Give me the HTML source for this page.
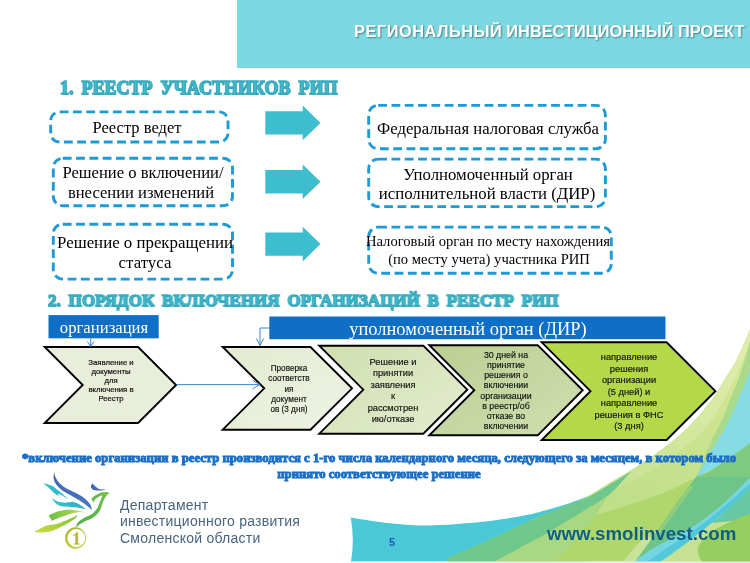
<!DOCTYPE html>
<html lang="ru">
<head>
<meta charset="utf-8">
<title>Региональный инвестиционный проект</title>
<style>
html,body{margin:0;padding:0;background:#fff;}
body{width:750px;height:563px;position:relative;overflow:hidden;font-family:"Liberation Serif",serif;}
.abs{position:absolute;}
.sl,.cl,.h,.fn,.dep,#www,#pn,#hdrt{will-change:transform;}
#hdr{left:237px;top:0;width:513px;height:67.5px;background:#7cd8e1;}
#hdrt{right:6px;top:21.5px;font-family:"Liberation Sans",sans-serif;font-weight:bold;font-size:16.35px;line-height:18px;color:#fff;white-space:nowrap;text-shadow:1px 1px 1.5px rgba(70,100,110,.75);}
.h{font-family:"Liberation Serif",serif;font-weight:bold;color:#45bccd;white-space:nowrap;line-height:22px;-webkit-text-stroke:1.45px #38adc0;text-shadow:0.6px 0.6px 0.3px #2a93a8;}
.sl{width:300px;text-align:center;white-space:nowrap;line-height:20px;color:#000;font-family:"Liberation Serif",serif;}
.cl{width:120px;text-align:center;white-space:nowrap;line-height:12px;color:#101010;-webkit-text-stroke:0.15px #101010;font-family:"Liberation Sans",sans-serif;}
.bb{background:#0f6fc6;}
.bt{color:#fff;}
.fn{width:750px;left:0;text-align:center;font-family:"Liberation Serif",serif;font-weight:bold;font-size:12.7px;line-height:16px;color:#1b72ca;white-space:nowrap;-webkit-text-stroke:0.95px #1a6cc4;}
.dep{font-family:"Liberation Sans",sans-serif;color:#486380;font-size:14px;letter-spacing:0.25px;line-height:16.4px;white-space:nowrap;}
#www{font-family:"Liberation Sans",sans-serif;font-weight:bold;color:#105f82;font-size:18.7px;line-height:22px;white-space:nowrap;}
#pn{font-family:"Liberation Sans",sans-serif;font-weight:bold;color:#1b5fae;font-size:11px;line-height:12px;}
</style>
</head>
<body>

<!-- background swoosh -->
<svg class="abs" style="left:0;top:0" width="750" height="563" viewBox="0 0 750 563">
<defs><linearGradient id="pg" gradientUnits="userSpaceOnUse" x1="600" y1="500" x2="745" y2="345"><stop offset="0" stop-color="#c4e192"/><stop offset="0.45" stop-color="#d2e69c"/><stop offset="1" stop-color="#e0edae"/></linearGradient>
<linearGradient id="pg2" gradientUnits="userSpaceOnUse" x1="620" y1="500" x2="745" y2="345"><stop offset="0" stop-color="#bfdf88"/><stop offset="1" stop-color="#d6e794"/></linearGradient></defs>
<path d="M350.7 517.5 C357.2 518.5 377.1 522.0 390.0 523.3 C402.9 524.6 412.6 525.8 428.0 525.5 C443.4 525.2 466.5 523.4 482.7 521.7 C498.9 520.0 514.6 517.2 525.3 515.3 C536.0 513.3 539.6 511.9 546.7 510.0 C553.8 508.1 560.9 506.1 568.0 503.7 C575.1 501.3 585.8 496.9 589.3 495.5 L590 561.5 L351 561.5 Q354.8 540 350.7 517.5 Z" fill="#4bc8d6"/>
<path d="M448.5 559.5 C448.9 559.0 445.3 559.2 451.0 556.5 C456.7 553.8 470.3 548.6 482.7 543.0 C495.1 537.4 514.6 527.9 525.3 523.0 C536.0 518.1 539.6 516.5 546.7 513.5 C553.8 510.5 562.8 507.2 568.0 505.2 C573.2 503.1 574.5 502.8 578.0 501.2 C581.5 499.6 585.0 497.9 589.3 495.5 C593.6 493.1 595.4 491.8 604.0 486.5 C612.6 481.2 629.3 471.8 641.0 464.0 C652.7 456.2 665.0 447.3 674.0 440.0 C683.0 432.7 688.7 426.8 695.0 420.0 C701.3 413.2 707.0 406.3 712.0 399.5 C717.0 392.7 720.7 386.1 725.0 379.0 C729.3 371.9 733.8 365.2 738.0 357.0 C742.2 348.8 748.0 334.2 750.0 329.6 L750.0 561.5 L447.5 561.5 L446.8 560.5 C447.1 560.3 448.2 559.7 448.5 559.5 Z" fill="#afd76c"/>
<path d="M578.0 501.2 C579.9 500.2 585.0 497.9 589.3 495.5 C593.6 493.1 595.4 491.8 604.0 486.5 C612.6 481.2 629.3 471.8 641.0 464.0 C652.7 456.2 665.0 447.3 674.0 440.0 C683.0 432.7 688.7 426.8 695.0 420.0 C701.3 413.2 707.0 406.3 712.0 399.5 C717.0 392.7 720.7 386.1 725.0 379.0 C729.3 371.9 733.8 365.2 738.0 357.0 C742.2 348.8 748.0 334.2 750.0 329.6 L750.0 341.3 C749.2 344.4 747.0 353.6 745.0 360.0 C743.0 366.4 740.5 373.3 738.0 380.0 C735.5 386.7 732.7 393.3 730.0 400.0 C727.3 406.7 725.0 413.3 722.0 420.0 C719.0 426.7 716.2 430.8 712.0 440.0 C707.8 449.2 699.5 469.6 697.0 475.5 L696.4 476.4 C694.0 477.7 687.4 481.5 682.0 484.2 C676.6 486.9 671.0 489.8 664.0 492.6 C657.0 495.4 648.2 498.3 640.0 501.0 C631.8 503.7 623.3 506.5 615.0 509.0 C606.7 511.5 594.2 514.8 590.0 516.0 L578.0 515.0 Z" fill="url(#pg)"/>
<clipPath id="cpr"><path d="M578.0 501.2 C579.9 500.2 585.0 497.9 589.3 495.5 C593.6 493.1 595.4 491.8 604.0 486.5 C612.6 481.2 629.3 471.8 641.0 464.0 C652.7 456.2 665.0 447.3 674.0 440.0 C683.0 432.7 688.7 426.8 695.0 420.0 C701.3 413.2 707.0 406.3 712.0 399.5 C717.0 392.7 720.7 386.1 725.0 379.0 C729.3 371.9 733.8 365.2 738.0 357.0 C742.2 348.8 748.0 334.2 750.0 329.6 L750.0 341.3 C749.2 344.4 747.0 353.6 745.0 360.0 C743.0 366.4 740.5 373.3 738.0 380.0 C735.5 386.7 732.7 393.3 730.0 400.0 C727.3 406.7 725.0 413.3 722.0 420.0 C719.0 426.7 716.2 430.8 712.0 440.0 C707.8 449.2 699.5 469.6 697.0 475.5 L696.4 476.4 C694.0 477.7 687.4 481.5 682.0 484.2 C676.6 486.9 671.0 489.8 664.0 492.6 C657.0 495.4 648.2 498.3 640.0 501.0 C631.8 503.7 623.3 506.5 615.0 509.0 C606.7 511.5 594.2 514.8 590.0 516.0 L578.0 515.0 Z"/></clipPath>
<path d="M596.0 497.0 C602.3 494.2 622.7 485.8 634.0 480.0 C645.3 474.2 654.0 468.7 664.0 462.0 C674.0 455.3 686.0 447.0 694.0 440.0 C702.0 433.0 706.5 427.7 712.0 420.0 C717.5 412.3 722.7 402.0 727.0 394.0 C731.3 386.0 734.2 380.8 738.0 372.0 C741.8 363.2 748.0 346.4 750.0 341.3 L760.0 341.0 L760.0 540.0 L590.0 540.0 Z" fill="url(#pg2)" clip-path="url(#cpr)"/>
<path d="M750.0 341.3 C749.2 344.4 747.0 353.6 745.0 360.0 C743.0 366.4 740.5 373.3 738.0 380.0 C735.5 386.7 732.7 393.3 730.0 400.0 C727.3 406.7 725.0 413.3 722.0 420.0 C719.0 426.7 716.2 430.8 712.0 440.0 C707.8 449.2 699.5 469.6 697.0 475.5 L697.0 475.5 C700.5 469.6 712.7 449.2 718.0 440.0 C723.3 430.8 725.7 426.7 729.0 420.0 C732.3 413.3 735.1 406.7 738.0 400.0 C740.9 393.3 744.5 385.5 746.5 380.0 C748.5 374.5 749.4 369.1 750.0 366.9 Z" fill="#a9da8b"/>
<path d="M750.0 366.9 C749.4 369.1 748.5 374.5 746.5 380.0 C744.5 385.5 740.9 393.3 738.0 400.0 C735.1 406.7 732.3 413.3 729.0 420.0 C725.7 426.7 723.3 430.8 718.0 440.0 C712.7 449.2 700.5 469.6 697.0 475.5 L696.4 476.4 L712.0 470.0 C718.3 465.6 743.7 448.0 750.0 443.6 Z" fill="#86dce4"/>
<path d="M750.0 443.6 C743.7 448.0 720.9 464.5 712.0 470.0 C703.1 475.5 699.0 475.3 696.4 476.4 L750.0 478.0 Z" fill="#7ecb80"/>
<path d="M696.4 476.4 C693.2 480.8 683.4 494.1 677.0 503.0 C670.6 511.9 663.3 522.5 658.0 530.0 C652.7 537.5 648.7 543.0 645.0 548.0 C641.3 553.0 637.5 558.0 636.0 560.0 L633.0 563.0 C636.5 560.5 644.8 553.5 654.0 548.0 C663.2 542.5 678.3 535.8 688.0 530.0 C697.7 524.2 705.3 518.1 712.0 513.0 C718.7 507.9 721.7 505.3 728.0 499.5 C734.3 493.7 746.3 481.6 750.0 478.0 L750.0 477.0 L696.4 476.4 Z" fill="#6dc58a"/>
<path d="M690.0 486.0 C687.0 490.2 677.7 503.2 672.0 511.0 C666.3 518.8 658.7 529.3 656.0 533.0 L660.0 533.0 C662.7 529.3 670.5 518.7 676.0 511.0 C681.5 503.3 690.2 491.0 693.0 487.0 Z" fill="#8fce7c"/>
<path d="M448.5 559.5 C448.9 559.0 445.3 559.2 451.0 556.5 C456.7 553.8 470.3 548.6 482.7 543.0 C495.1 537.4 514.6 527.9 525.3 523.0 C536.0 518.1 539.6 516.5 546.7 513.5 C553.8 510.5 562.8 507.2 568.0 505.2 C573.2 503.1 574.5 502.6 578.0 501.2 C581.5 499.8 585.0 498.7 589.3 496.5 C593.6 494.3 597.0 492.2 604.0 488.0 C611.0 483.8 626.5 474.2 631.0 471.5 L631.0 471.5 C627.5 475.2 617.0 487.9 610.0 494.0 C603.0 500.1 596.3 503.4 589.3 507.8 C582.3 512.2 575.1 516.3 568.0 520.6 C560.9 524.9 553.8 529.3 546.7 533.4 C539.6 537.5 533.9 540.3 525.3 545.0 C516.7 549.7 500.1 558.8 495.0 561.5 L447.5 561.5 L446.8 560.5 C447.1 560.3 448.2 559.7 448.5 559.5 Z" fill="#6fc78b"/>
<path d="M495.0 561.5 C500.1 558.8 516.7 549.7 525.3 545.0 C533.9 540.3 539.6 537.5 546.7 533.4 C553.8 529.3 560.9 524.9 568.0 520.6 C575.1 516.3 582.6 511.7 589.3 507.8 C596.0 503.9 604.9 498.8 608.0 497.0 L608.0 497.0 C604.9 501.3 596.0 514.2 589.3 522.7 C582.6 531.2 574.4 541.6 568.0 548.3 C561.6 555.0 553.8 560.5 551.0 563.0 Z" fill="#a9d884"/>
<path d="M750.0 478.0 C746.3 481.6 734.3 493.7 728.0 499.5 C721.7 505.3 718.7 507.9 712.0 513.0 C705.3 518.1 697.7 524.2 688.0 530.0 C678.3 535.8 663.2 542.5 654.0 548.0 C644.8 553.5 636.5 560.5 633.0 563.0 L659.0 563.0 C662.5 560.5 672.8 553.3 680.0 548.0 C687.2 542.7 694.7 536.8 702.0 531.0 C709.3 525.2 716.0 520.2 724.0 513.0 C732.0 505.8 745.7 492.2 750.0 488.0 Z" fill="#74d5e3"/>
<path d="M750.0 483.5 C745.3 487.7 731.5 500.6 722.0 508.5 C712.5 516.4 702.2 524.4 693.0 531.0 C683.8 537.6 674.8 542.7 667.0 548.0 C659.2 553.3 649.5 560.5 646.0 563.0 L659.0 563.0 C662.5 560.5 672.8 553.3 680.0 548.0 C687.2 542.7 694.7 536.8 702.0 531.0 C709.3 525.2 716.0 520.2 724.0 513.0 C732.0 505.8 745.7 492.2 750.0 488.0 Z" fill="#52c8da"/>
<path d="M724.0 513.0 C720.3 516.0 709.3 525.2 702.0 531.0 C694.7 536.8 687.2 542.7 680.0 548.0 C672.8 553.3 662.5 560.5 659.0 563.0 L750.0 563.0 L750.0 512.0 Z" fill="#c5e294"/>
<path d="M750.0 488.0 C745.7 492.2 730.3 507.2 724.0 513.0 C717.7 518.8 714.0 521.3 712.0 523.0 L732.0 521.0 C735.0 519.8 747.0 515.2 750.0 514.0 Z" fill="#68c8a5"/>
<path d="M750.0 514.0 C747.0 515.2 738.7 517.8 732.0 521.0 C725.3 524.2 715.7 528.5 710.0 533.0 C704.3 537.5 699.3 543.0 698.0 548.0 C696.7 553.0 701.3 560.5 702.0 563.0 L750.0 563.0 Z" fill="#96ce62"/>
<path d="M652.0 538.0 C650.8 539.7 647.7 544.3 645.0 548.0 C642.3 551.7 637.8 557.5 636.0 560.0 C634.2 562.5 634.3 562.5 634.0 563.0 L621.0 563.0 L626.0 558.0 C627.3 556.3 630.7 551.7 634.0 548.0 C637.3 544.3 644.0 538.0 646.0 536.0 Z" fill="#c9e29a"/>
<rect x="351" y="561.5" width="399" height="1.5" fill="#e4f0ec"/>
</svg>

<!-- header -->
<div class="abs" id="hdr"></div>
<div class="abs" id="hdrt"><span style="letter-spacing:0.52px">РЕГИОНАЛЬНЫ</span>Й ИНВЕСТИЦИОННЫЙ ПРОЕКТ</div>

<!-- section headings -->
<div class="abs h" style="left:60.3px;top:77.4px;font-size:17.9px;word-spacing:3.5px;transform:scaleX(1.005);transform-origin:0 0;">1. РЕЕСТР УЧАСТНИКОВ РИП</div>
<div class="abs h" style="left:47.6px;top:289.6px;font-size:17.1px;word-spacing:3.5px;transform:scaleX(0.9965);transform-origin:0 0;">2. ПОРЯДОК ВКЛЮЧЕНИЯ ОРГАНИЗАЦИЙ В РЕЕСТР РИП</div>

<!-- shapes -->
<svg class="abs" style="left:0;top:0" width="750" height="563" viewBox="0 0 750 563">
  <g fill="none" stroke="#1e9ad6" stroke-width="2.9" stroke-dasharray="8.8 4.5" stroke-linecap="butt">
    <rect x="50.7" y="111.9" width="177.3" height="30.1" rx="9" ry="9" stroke-dashoffset="0"/>
    <rect x="53.3" y="158.3" width="179.2" height="47.5" rx="9.5" ry="9.5" stroke-dashoffset="0"/>
    <rect x="53.3" y="224.2" width="179.2" height="54.9" rx="9.5" ry="9.5" stroke-dashoffset="0"/>
    <rect x="368.7" y="105.4" width="236.7" height="43.3" rx="9.5" ry="9.5" stroke-dashoffset="0"/>
    <rect x="368.7" y="159.1" width="236.7" height="47.5" rx="9.5" ry="9.5" stroke-dashoffset="0"/>
    <rect x="368.7" y="227.1" width="242.6" height="46.1" rx="9.5" ry="9.5" stroke-dashoffset="0"/>
  </g>
  <g fill="#3dbdce">
    <path d="M265.3 111.2 H302.7 V105.60000000000001 L320.5 122.9 L302.7 140.20000000000002 V134.6 H265.3 Z"/>
    <path d="M265.3 170.10000000000002 H302.7 V164.5 L320.5 181.8 L302.7 199.10000000000002 V193.5 H265.3 Z"/>
    <path d="M265.3 232.4 H302.7 V226.79999999999998 L320.5 244.1 L302.7 261.4 V255.79999999999998 H265.3 Z"/>
  </g>
  <rect x="48.5" y="315.1" width="110.2" height="23.2" fill="#0f6fc6"/>
  <rect x="269.3" y="316.5" width="396.2" height="22.7" fill="#0f6fc6"/>
  <defs>
    <linearGradient id="c2" x1="0" y1="0" x2="1" y2="1"><stop offset="0" stop-color="#e3ebd0"/><stop offset="1" stop-color="#eef3e4"/></linearGradient>
    <linearGradient id="c3" x1="0" y1="0" x2="1" y2="1"><stop offset="0" stop-color="#d0deb0"/><stop offset="1" stop-color="#e4edd0"/></linearGradient>
    <linearGradient id="c4" x1="0" y1="0" x2="1" y2="1"><stop offset="0" stop-color="#bccf92"/><stop offset="1" stop-color="#cfdeb0"/></linearGradient>
  </defs>
  <g stroke="#000" stroke-width="1.9" stroke-linejoin="miter">
    <path d="M44.7 347 H138.1 L176.1 385.0 L138.1 423 H44.7 L82.7 385.0 Z" fill="#e9eedb"/>
    <path d="M222.7 347 H310.5 L352 388.35 L310.5 429.7 H222.7 L264.2 388.35 Z" fill="url(#c2)"/>
    <path d="M319.3 345.7 H423.3 L467.3 389.7 L423.3 433.7 H319.3 L363.3 389.7 Z" fill="url(#c3)"/>
    <path d="M429.3 345.2 H537.7 L582.7 390.25 L537.7 435.3 H429.3 L474.3 390.25 Z" fill="url(#c4)"/>
    <path d="M541.7 342.3 H666.6 L715.4 391.15 L666.6 440 H541.7 L590.5 391.15 Z" fill="#b5d84b"/>
  </g>
  <g stroke="#3a86d4" stroke-width="1" fill="none">
    <path d="M90.7 338.3 V346.5 M87.3 341.5 L90.7 346.5 L94.1 341.5"/>
    <path d="M176.5 384.6 H260 M252.5 380.3 L260 384.6 L252.5 388.9"/>
    <path d="M269.3 328 H260 V345.5 M256.3 338.5 L260 345.5 L263.7 338.5"/>
  </g>
</svg>

<!-- dashed box labels -->
<div class="abs sl" style="left:-13.1px;top:117.73px;font-size:16.5px;">Реестр ведет</div>
<div class="abs sl" style="left:-6.7px;top:163.30px;font-size:16.6px;">Решение о включении/</div>
<div class="abs sl" style="left:-8.7px;top:183.30px;font-size:16.6px;">внесении изменений</div>
<div class="abs sl" style="left:-5.5px;top:232.61px;font-size:16.85px;">Решение о прекращении</div>
<div class="abs sl" style="left:-4.7px;top:252.61px;font-size:16.85px;">статуса</div>
<div class="abs sl" style="left:337.5px;top:118.77px;font-size:16.67px;">Федеральная налоговая служба</div>
<div class="abs sl" style="left:337.7px;top:164.85px;font-size:16.75px;">Уполномоченный орган</div>
<div class="abs sl" style="left:337.3px;top:183.95px;font-size:16.75px;">исполнительной власти (ДИР)</div>
<div class="abs sl" style="left:338.2px;top:231.17px;font-size:14.6px;">Налоговый орган по месту нахождения</div>
<div class="abs sl" style="left:339.2px;top:249.17px;font-size:14.6px;">(по месту учета) участника РИП</div>

<!-- blue box labels -->
<div class="abs sl" style="left:-46.0px;top:317.96px;font-size:16.7px;color:#fff;">организация</div>
<div class="abs sl" style="left:317.7px;top:319.47px;font-size:18.45px;color:#fff;">уполномоченный орган (ДИР)</div>

<!-- chevron labels -->
<div class="abs cl" style="left:51.0px;top:356.63px;font-size:7.75px;color:#111;-webkit-text-stroke:0.2px #111;">Заявление и</div>
<div class="abs cl" style="left:51.0px;top:365.83px;font-size:7.75px;color:#111;-webkit-text-stroke:0.2px #111;">документы</div>
<div class="abs cl" style="left:51.0px;top:375.03px;font-size:7.75px;color:#111;-webkit-text-stroke:0.2px #111;">для</div>
<div class="abs cl" style="left:51.0px;top:384.23px;font-size:7.75px;color:#111;-webkit-text-stroke:0.2px #111;">включения в</div>
<div class="abs cl" style="left:51.0px;top:393.43px;font-size:7.75px;color:#111;-webkit-text-stroke:0.2px #111;">Реестр</div>
<div class="abs cl" style="left:228.5px;top:363.39px;font-size:8.2px;">Проверка</div>
<div class="abs cl" style="left:228.5px;top:373.49px;font-size:8.2px;">соответств</div>
<div class="abs cl" style="left:228.5px;top:383.59px;font-size:8.2px;">ия</div>
<div class="abs cl" style="left:228.5px;top:393.69px;font-size:8.2px;">документ</div>
<div class="abs cl" style="left:228.5px;top:403.79px;font-size:8.2px;">ов (3 дня)</div>
<div class="abs cl" style="left:333.2px;top:355.70px;font-size:9.3px;">Решение и</div>
<div class="abs cl" style="left:333.2px;top:367.20px;font-size:9.3px;">принятии</div>
<div class="abs cl" style="left:333.2px;top:378.70px;font-size:9.3px;">заявления</div>
<div class="abs cl" style="left:333.2px;top:390.20px;font-size:9.3px;">к</div>
<div class="abs cl" style="left:333.2px;top:401.70px;font-size:9.3px;">рассмотрен</div>
<div class="abs cl" style="left:333.2px;top:413.20px;font-size:9.3px;">ию/отказе</div>
<div class="abs cl" style="left:445.9px;top:348.84px;font-size:8.8px;">30 дней на</div>
<div class="abs cl" style="left:445.9px;top:359.01px;font-size:8.8px;">принятие</div>
<div class="abs cl" style="left:445.9px;top:369.18px;font-size:8.8px;">решения о</div>
<div class="abs cl" style="left:445.9px;top:379.35px;font-size:8.8px;">включении</div>
<div class="abs cl" style="left:445.9px;top:389.52px;font-size:8.8px;">организации</div>
<div class="abs cl" style="left:445.9px;top:399.69px;font-size:8.8px;">в реестр/об</div>
<div class="abs cl" style="left:445.9px;top:409.86px;font-size:8.8px;">отказе во</div>
<div class="abs cl" style="left:445.9px;top:420.03px;font-size:8.8px;">включении</div>
<div class="abs cl" style="left:568.9px;top:351.30px;font-size:9.3px;">направление</div>
<div class="abs cl" style="left:568.9px;top:362.74px;font-size:9.3px;">решения</div>
<div class="abs cl" style="left:568.9px;top:374.18px;font-size:9.3px;">организации</div>
<div class="abs cl" style="left:568.9px;top:385.62px;font-size:9.3px;">(5 дней) и</div>
<div class="abs cl" style="left:568.9px;top:397.06px;font-size:9.3px;">направление</div>
<div class="abs cl" style="left:568.9px;top:408.50px;font-size:9.3px;">решения в ФНС</div>
<div class="abs cl" style="left:568.9px;top:419.94px;font-size:9.3px;">(3 дня)</div>

<!-- footnote -->
<div class="abs fn" style="top:450.1px;left:4.2px;">*включение организации в реестр производится с 1-го числа календарного месяца, следующего за месяцем, в котором было</div>
<div class="abs fn" style="top:466.1px;left:3.8px;">принято соответствующее решение</div>

<!-- logo -->
<svg class="abs" style="left:30px;top:470px" width="90" height="93" viewBox="0 0 544.5 562.6">
<defs>
<linearGradient id="lgB" x1="0" y1="0" x2="1" y2="1"><stop offset="0" stop-color="#4166b4"/><stop offset="1" stop-color="#4878c0"/></linearGradient>
<linearGradient id="lgC" x1="0" y1="0" x2="1" y2="0"><stop offset="0" stop-color="#35c4cf"/><stop offset="1" stop-color="#27b0cb"/></linearGradient>
<linearGradient id="lgG" x1="1" y1="0" x2="0" y2="1"><stop offset="0" stop-color="#72c24a"/><stop offset="1" stop-color="#4caf4a"/></linearGradient>
<linearGradient id="lgU" x1="0" y1="0" x2="1" y2="0"><stop offset="0" stop-color="#6dbd45"/><stop offset="0.6" stop-color="#a3cf4a"/><stop offset="1" stop-color="#d5e27a"/></linearGradient>
<linearGradient id="lgY" x1="0" y1="1" x2="1" y2="0"><stop offset="0" stop-color="#cfdc3a"/><stop offset="1" stop-color="#7fc241"/></linearGradient>
<linearGradient id="lgO" x1="0" y1="0" x2="0" y2="1"><stop offset="0" stop-color="#aeb52c"/><stop offset="1" stop-color="#c6cf45"/></linearGradient>
</defs>
<path d="M147.0 13.7 C148.3 19.1 149.8 35.1 154.8 45.9 C159.9 56.6 167.6 68.0 177.3 78.2 C187.0 88.4 199.4 98.6 212.8 107.2 C226.2 115.8 242.9 122.3 257.9 129.8 C272.9 137.3 289.0 143.7 303.0 152.3 C317.0 160.9 331.2 171.4 341.7 181.3 C352.2 191.2 360.6 201.9 366.0 212.0 C371.4 222.1 372.7 237.0 374.0 242.0 L374.0 242.0 C370.3 238.7 361.0 229.3 352.0 222.0 C343.0 214.7 331.2 205.7 320.0 198.0 C308.8 190.3 296.4 183.1 285.0 176.0 C273.6 168.9 265.7 163.8 251.5 155.5 C237.3 147.2 215.0 137.2 199.9 126.5 C184.8 115.8 170.7 103.4 161.2 91.1 C151.7 78.8 145.5 65.3 143.1 52.4 C140.7 39.5 146.3 20.1 147.0 13.7 Z" fill="url(#lgB)"/>
<path d="M80.6 80.1 C88.7 82.5 113.4 86.6 129.0 94.3 C144.6 102.0 160.1 115.8 174.1 126.5 C188.1 137.2 203.7 149.9 212.8 158.8 C221.9 167.7 226.2 176.5 228.9 180.0 L228.9 180.0 C225.8 177.3 217.0 169.0 210.0 164.0 C203.0 159.0 194.0 153.7 187.0 150.0 C180.0 146.3 169.8 141.0 168.0 142.0 C166.2 143.0 178.8 155.7 176.0 156.0 C173.2 156.3 161.5 151.6 151.5 144.0 C141.5 136.4 127.9 121.1 116.1 110.4 C104.3 99.8 86.5 85.1 80.6 80.1 Z" fill="url(#lgC)"/>
<path d="M132.2 168.4 C138.1 172.2 154.2 186.2 167.6 191.0 C181.0 195.8 197.8 197.0 212.8 197.5 C227.9 198.0 243.9 192.6 257.9 194.2 C271.9 195.8 283.2 200.0 296.6 207.1 C310.0 214.2 331.5 232.0 338.5 237.0 L338.5 237.0 C330.4 235.2 305.8 228.8 290.2 226.5 C274.6 224.2 261.1 224.4 245.0 223.3 C228.9 222.2 208.4 223.8 193.4 220.0 C178.4 216.2 165.0 209.3 154.8 200.7 C144.6 192.1 136.0 173.8 132.2 168.4 Z" fill="url(#lgC)"/>
<path d="M112.8 275.0 C120.9 271.2 144.5 258.0 161.2 252.4 C177.9 246.8 194.5 243.1 212.8 241.5 C231.1 239.9 253.6 241.2 270.8 242.8 C288.0 244.4 304.2 247.9 316.0 251.1 C327.8 254.3 337.4 260.3 341.7 262.1 L341.7 262.1 C335.2 260.8 317.0 254.5 303.0 254.5 C289.0 254.5 274.0 258.2 257.9 262.1 C241.8 266.1 222.4 272.8 206.3 278.2 C190.2 283.6 173.5 289.5 161.2 294.3 C148.8 299.1 137.0 305.1 132.2 307.2 Z" fill="url(#lgU)"/>
<path d="M25.8 373.7 C32.2 370.1 51.6 358.8 64.5 352.4 C77.4 345.9 87.1 339.3 103.2 335.0 C119.3 330.7 142.9 331.2 161.2 326.6 C179.5 322.0 196.7 313.6 212.8 307.2 C228.9 300.8 245.5 293.8 257.9 287.9 C270.2 282.0 282.1 274.5 286.9 271.8 L286.9 271.8 C285.3 274.7 284.3 282.0 277.3 289.0 C270.3 296.0 257.9 305.3 245.0 313.7 C232.1 322.1 217.1 330.9 199.9 339.5 C182.7 348.1 162.3 358.9 141.9 365.3 C121.5 371.8 96.8 376.8 77.4 378.2 C58.1 379.6 34.4 374.4 25.8 373.7 Z" fill="url(#lgY)"/>
<path d="M481.9 138.6 C477.4 137.8 464.7 133.5 454.8 133.5 C444.9 133.5 432.7 135.0 422.5 138.6 C412.3 142.2 402.1 149.1 393.5 154.8 C384.9 160.5 374.8 169.8 371.0 172.8 L371.0 172.8 C372.2 175.0 375.9 181.9 378.0 186.0 C380.1 190.1 382.9 195.6 383.9 197.5 L383.9 197.5 C386.0 193.8 389.3 182.0 396.8 175.0 C404.3 168.0 422.3 158.7 429.0 155.5 C435.7 152.3 435.7 155.9 437.0 156.0 L437.0 156.0 C434.6 162.2 427.6 180.7 422.5 193.4 C417.4 206.1 413.9 220.3 406.4 232.1 C398.9 243.9 388.7 255.8 377.4 264.4 C366.1 273.0 350.5 277.2 338.7 283.7 C326.9 290.1 315.1 296.7 306.5 303.1 C297.9 309.5 292.3 313.9 286.9 322.0 C281.5 330.1 276.3 347.0 274.2 352.0 L274.2 352.0 C279.0 347.8 292.8 334.3 303.0 327.0 C313.2 319.7 324.5 313.2 335.3 308.0 C346.1 302.8 357.2 301.7 368.0 296.0 C378.8 290.3 390.4 283.6 400.0 274.0 C409.6 264.4 418.8 252.0 425.8 238.6 C432.8 225.2 436.5 206.3 441.9 193.4 C447.3 180.5 451.3 170.3 458.0 161.2 C464.7 152.1 477.9 142.4 481.9 138.6 Z" fill="url(#lgG)"/>
<path d="M377.4 80.6 C375.8 84.2 367.4 95.5 368.0 102.0 C368.6 108.5 374.1 115.8 381.0 119.5 C387.9 123.2 399.8 124.1 409.6 124.5 C419.4 124.9 431.9 123.2 440.0 122.0 C448.1 120.8 455.0 117.8 458.0 117.0 L458.0 117.0 C453.7 117.1 439.5 118.2 432.0 117.5 C424.5 116.8 418.7 115.6 413.0 113.0 C407.3 110.4 403.9 107.4 398.0 102.0 C392.1 96.6 380.8 84.2 377.4 80.6 Z" fill="#4068b6"/>
<path d="M275 346 a64 66 0 1 0 0.01 0 Z M280.5 356.5 a53.5 54.5 0 1 1 -0.01 0 Z" fill="url(#lgO)" fill-rule="evenodd"/>
<path d="M262 392 C270 390 276 385 280 376 L291 376 L291 440 C291 444 296 446 303 446 L303 451 L262 451 L262 446 C269 446 274 444 274 440 L274 396 C270 398 266 399 262 399 Z" fill="#b4bb30"/>
</svg>
<div class="abs dep" style="left:120.3px;top:496.6px;">Департамент<br>инвестиционного развития<br>Смоленской области</div>

<div class="abs" id="www" style="left:546.8px;top:523px;">www.smolinvest.com</div>
<div class="abs" id="pn" style="left:389.2px;top:535.6px;">5</div>

</body>
</html>
